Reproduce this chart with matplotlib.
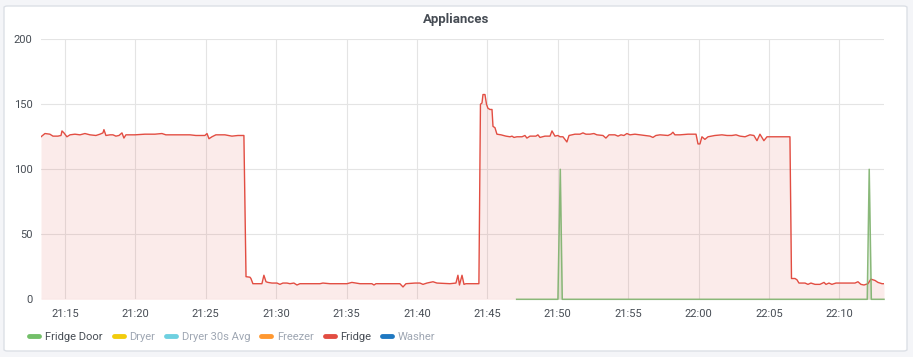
import numpy as np
import pandas as pd
import matplotlib
matplotlib.use("Agg")
import matplotlib.pyplot as plt
import matplotlib.dates as mdates
from matplotlib.lines import Line2D
from matplotlib.patches import FancyBboxPatch

plt.rcParams["font.family"] = ["Roboto", "DejaVu Sans"]

# minutes after 21:00
fridge_t = [
    13.30, 13.58, 13.93, 14.15, 14.50, 14.72, 14.79, 14.93, 15.14, 15.36,
    15.71, 16.07, 16.42, 16.78, 17.20, 17.49, 17.70, 17.77, 17.91, 18.20,
    18.41, 18.62, 18.84, 19.05, 19.19, 19.33, 19.97, 20.68, 21.39, 21.89,
    22.17, 22.81, 23.38, 23.88, 24.30, 24.94, 25.09, 25.23, 25.44, 25.72,
    26.36, 26.86, 27.29, 27.71,
    27.86, 28.14, 28.21, 28.35, 28.99, 29.13, 29.28, 29.42, 29.70, 30.06,
    30.27, 30.48, 30.77, 30.98, 31.26, 31.48, 31.69, 33.11, 33.32, 33.82,
    35.03, 35.38, 35.95, 36.80, 36.95, 37.09, 38.79, 39.01, 39.22, 39.86,
    40.21, 40.43, 40.71, 41.14, 41.42, 42.34, 42.77, 42.91, 43.02, 43.20,
    43.34, 43.48, 44.40,
    44.51, 44.62, 44.69, 44.83, 44.94, 45.04, 45.18, 45.33, 45.40, 45.54,
    45.68, 45.97, 46.32, 46.61, 46.75, 46.89, 47.10, 47.46, 47.67, 47.81,
    48.03, 48.45, 48.59, 48.74, 49.09, 49.45, 49.59, 49.80, 50.01, 50.16,
    50.37, 50.65, 50.80, 51.22, 51.58, 51.79, 52.00, 52.29, 52.57, 52.78,
    53.21, 53.42, 53.64, 54.06, 54.28, 54.49, 54.70, 54.91, 55.13, 55.48,
    55.84, 56.19, 56.55, 56.76, 56.97, 57.26, 57.83, 58.04, 58.18, 58.32,
    58.68, 59.25, 59.82, 59.96, 60.10, 60.24, 60.45, 60.67, 61.16, 61.66,
    62.02, 62.37, 62.66, 62.94, 63.30, 63.65, 63.93, 64.15, 64.36, 64.64,
    64.86, 65.28, 66.49,
    66.60, 66.85, 66.99, 67.13, 67.56, 67.77, 67.98, 68.27, 68.62, 68.91,
    69.05, 69.26, 69.47, 69.76, 70.40, 71.11, 71.32, 71.53, 71.75, 72.03,
    72.24, 72.53, 72.74, 73.03, 73.17,
]
fridge_w = [
    125, 127.5, 127, 125.5, 125.5, 126, 129.5, 128, 125, 126.5,
    127, 126.5, 127.5, 126.5, 126, 127, 128, 130.5, 126, 126.5,
    126.5, 125.5, 126, 128, 124, 126.5, 126.5, 127, 127, 127.5,
    126.5, 126.5, 126.5, 126.5, 126, 126, 127.5, 123.5, 125, 126.5,
    126.5, 125.5, 126, 126,
    17.4, 17, 16, 12, 12, 18.5, 13.5, 13, 12.5, 12.5,
    11.5, 12.5, 12.5, 12, 12.5, 11, 12, 12, 12.5, 12,
    12, 13, 12, 12, 11, 12, 12, 9.5, 12, 12.5,
    12.5, 11.5, 12.5, 13.5, 12.5, 12, 12.5, 18.5, 11, 18.5,
    11.5, 12, 12,
    150, 151, 157.5, 157.5, 150, 147, 146, 146, 133, 132,
    127, 126.5, 125.5, 125, 125.5, 124.5, 125, 125, 126, 124,
    125.5, 125.5, 126.5, 124.5, 125.5, 125.5, 129.5, 125.5, 126, 125,
    125, 121, 126, 127, 127, 128, 127, 127, 127.5, 126.5,
    126, 124, 126.5, 126.5, 125.5, 126.5, 126, 127.5, 126.5, 127,
    126.5, 126, 125.5, 124.5, 126, 126.5, 126, 127, 128.5, 126.5,
    126.5, 127, 127, 119.5, 119.5, 125, 123, 125, 126, 126.5,
    126, 126, 126.5, 125.5, 125, 126.5, 126, 122, 127, 122,
    125, 125, 125,
    16, 16, 15, 12.5, 12.5, 11.5, 12.5, 11.5, 11.5, 13,
    11.5, 12.5, 11.5, 12.5, 12.5, 12.5, 13.5, 11.5, 11, 12,
    15.5, 14.5, 13, 12, 12,
]

door_t = [47.08, 50.01, 50.18, 50.32, 71.98, 72.12, 72.27, 73.17]
door_v = [0, 0, 100, 0, 0, 100, 0, 0]

series_names = ["Fridge Door", "Dryer", "Dryer 30s Avg", "Freezer", "Fridge", "Washer"]
series_colors = ["#73bf69", "#f2cc0c", "#6ed0e0", "#ff9830", "#e24d42", "#1f78c1"]
series_shown = [True, False, False, False, True, False]

base = pd.Timestamp("2020-01-01 21:00:00")
fridge_x = base + pd.to_timedelta(fridge_t, unit="m")
door_x = base + pd.to_timedelta(door_t, unit="m")

fig = plt.figure(figsize=(9.13, 3.57), dpi=100, facecolor="#f4f5f8")
panel = FancyBboxPatch((4 / 913, 6 / 357), 903 / 913, 345 / 357,
                       boxstyle="round,pad=0,rounding_size=0.004",
                       transform=fig.transFigure, facecolor="white",
                       edgecolor="#dce0e6", linewidth=1, zorder=-10)
fig.patches.append(panel)

ax = fig.add_axes([41 / 913, 0.1616, 843 / 913, 0.7284])
ax.set_facecolor("none")

red = "#e24d42"
green = "#7eb26d"
ax.fill_between(fridge_x, 0, fridge_w, color=red, alpha=0.11, linewidth=0, zorder=2)
ax.plot(fridge_x, fridge_w, color=red, linewidth=1, zorder=3)
ax.fill_between(door_x, 0, door_v, color=green, alpha=0.2, linewidth=0, zorder=2)
ax.plot(door_x, door_v, color=green, linewidth=1.1, alpha=0.9, zorder=4, clip_on=False)

ax.set_xlim(fridge_x[0], fridge_x[-1])
ax.set_ylim(0, 200)
ax.set_yticks([0, 50, 100, 150, 200])
ax.xaxis.set_major_locator(mdates.MinuteLocator(byminute=range(0, 60, 5)))
ax.xaxis.set_major_formatter(mdates.DateFormatter("%H:%M"))
ax.grid(True, color="#e4e4e4", linewidth=0.8, zorder=0)
ax.set_axisbelow(True)
for s in ax.spines.values():
    s.set_visible(False)
ax.tick_params(length=0, labelsize=8, colors="#464c54")
ax.tick_params(axis="x", pad=7)
ax.tick_params(axis="y", pad=6)

fig.text(0.5, 1 - 19 / 357, "Appliances", ha="center", va="center",
         fontsize=9.5, fontweight="semibold", color="#464c54")

handles = [Line2D([], [], color=c, linewidth=3.5, solid_capstyle="round")
           for c in series_colors]
leg = fig.legend(handles, series_names, loc="center left",
                 bbox_to_anchor=(25 / 913, 1 - 337 / 357), ncol=6, frameon=False,
                 fontsize=8, handlelength=0.9, handletextpad=0.5,
                 columnspacing=1.0, borderaxespad=0)
for txt, shown in zip(leg.get_texts(), series_shown):
    txt.set_color("#464c54" if shown else "#9fa7b3")

fig.savefig("out.png", dpi=100, facecolor=fig.get_facecolor())
